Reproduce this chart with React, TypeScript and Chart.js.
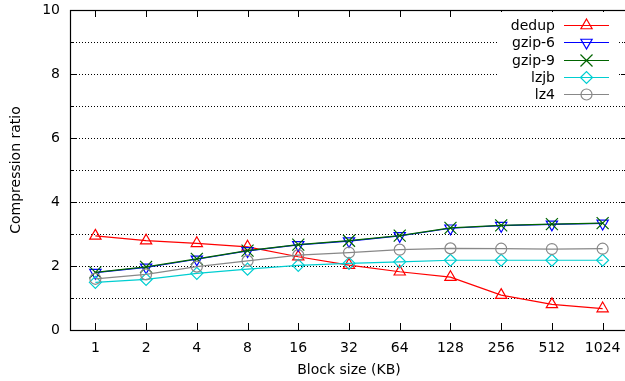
import React, { useEffect, useRef } from 'react';
import { Chart, registerables } from 'chart.js';
import { drawPoint } from 'chart.js/helpers';

Chart.register(...registerables);

const categories = ['1', '2', '4', '8', '16', '32', '64', '128', '256', '512', '1024'];
const dedupValues = [2.94, 2.79, 2.71, 2.6, 2.29, 2.03, 1.82, 1.65, 1.09, 0.8, 0.67];
const gzip6Values = [1.79, 1.96, 2.21, 2.47, 2.66, 2.78, 2.94, 3.18, 3.26, 3.3, 3.33];
const gzip9Values = [1.8, 1.97, 2.22, 2.48, 2.67, 2.79, 2.95, 3.19, 3.27, 3.31, 3.34];
const lzjbValues = [1.49, 1.58, 1.77, 1.9, 2.02, 2.08, 2.13, 2.18, 2.18, 2.18, 2.18];
const lz4Values = [1.6, 1.74, 1.98, 2.16, 2.34, 2.42, 2.51, 2.55, 2.54, 2.53, 2.54];
const yMin = 0;
const yMax = 10;
const yMajorStep = 2;
const gridValues = [1, 2, 3, 4, 5, 6, 7, 8, 9];
const minorTickValues = [1, 3, 5, 7, 9];

const FONT = 'DejaVu Sans';

const seriesDefs = [
  { label: 'dedup', data: dedupValues, color: '#ff0000', style: 'triangle', rotation: 0, radius: 6.5 },
  { label: 'gzip-6', data: gzip6Values, color: '#0000ff', style: 'triangle', rotation: 180, radius: 6.5 },
  { label: 'gzip-9', data: gzip9Values, color: '#006400', style: 'crossRot', rotation: 0, radius: 8.5 },
  { label: 'lzjb', data: lzjbValues, color: '#00ced1', style: 'rectRot', rotation: 0, radius: 6 },
  { label: 'lz4', data: lz4Values, color: '#888888', style: 'circle', rotation: 0, radius: 5.5 },
];

const framePlugin = {
  id: 'gnuplotFrame',
  beforeDatasetsDraw(chart: any) {
    const { ctx, chartArea } = chart;
    const { left, right, top, bottom } = chartArea;
    const ys = chart.scales.y;
    const xs = chart.scales.x;
    ctx.save();
    ctx.strokeStyle = '#000';
    ctx.lineWidth = 1;
    ctx.setLineDash([1, 2]);
    gridValues.forEach((v) => {
      const y = Math.round(ys.getPixelForValue(v)) + 0.5;
      ctx.beginPath();
      ctx.moveTo(left, y);
      ctx.lineTo(right, y);
      ctx.stroke();
    });
    ctx.setLineDash([]);
    ctx.strokeStyle = '#000';
    ctx.lineWidth = 1.2;
    ctx.strokeRect(Math.round(left) + 0.5, Math.round(top) + 0.5, Math.round(right - left), Math.round(bottom - top));
    ctx.lineWidth = 1;
    const major = 7;
    const minor = 4;
    for (let v = yMin; v <= yMax; v += yMajorStep) {
      const y = Math.round(ys.getPixelForValue(v)) + 0.5;
      ctx.beginPath();
      ctx.moveTo(left, y);
      ctx.lineTo(left + major, y);
      ctx.moveTo(right, y);
      ctx.lineTo(right - major, y);
      ctx.stroke();
    }
    minorTickValues.forEach((v) => {
      const y = Math.round(ys.getPixelForValue(v)) + 0.5;
      ctx.beginPath();
      ctx.moveTo(left, y);
      ctx.lineTo(left + minor, y);
      ctx.moveTo(right, y);
      ctx.lineTo(right - minor, y);
      ctx.stroke();
    });
    categories.forEach((_, i) => {
      const x = Math.round(xs.getPixelForValue(i)) + 0.5;
      ctx.beginPath();
      ctx.moveTo(x, bottom);
      ctx.lineTo(x, bottom - major);
      ctx.moveTo(x, top);
      ctx.lineTo(x, top + major);
      ctx.stroke();
    });
    ctx.restore();
  },
  afterDatasetsDraw(chart: any) {
    const { ctx, chartArea } = chart;
    const R = chartArea.right;
    const T = chartArea.top;
    ctx.save();
    ctx.fillStyle = '#ffffff';
    ctx.fillRect(R - 130, T + 2, 119, 91);
    ctx.font = `14px "${FONT}"`;
    ctx.textAlign = 'right';
    ctx.textBaseline = 'middle';
    seriesDefs.forEach((s, i) => {
      const y = Math.round(T + 15 + i * 17.25) + 0.5;
      ctx.fillStyle = '#000';
      ctx.fillText(s.label, R - 73, y + 1);
      ctx.strokeStyle = s.color;
      ctx.lineWidth = 1.2;
      ctx.beginPath();
      ctx.moveTo(R - 64, y);
      ctx.lineTo(R - 19, y);
      ctx.stroke();
      ctx.strokeStyle = s.color;
      ctx.fillStyle = 'rgba(0,0,0,0)';
      drawPoint(ctx, { pointStyle: s.style, radius: s.radius, rotation: s.rotation, borderWidth: 1.2 } as any, R - 41.5, y);
    });
    ctx.restore();
  },
};

export default function App() {
  const canvasRef = useRef<HTMLCanvasElement | null>(null);

  useEffect(() => {
    if (!canvasRef.current) return;
    const chart = new Chart(canvasRef.current, {
      type: 'line',
      data: {
        labels: categories,
        datasets: seriesDefs.map((s, i) => ({
          label: s.label,
          data: s.data,
          borderColor: s.color,
          backgroundColor: 'rgba(0,0,0,0)',
          borderWidth: 1.2,
          tension: 0,
          fill: false,
          pointStyle: s.style as any,
          pointRotation: s.rotation,
          pointRadius: s.radius,
          pointBorderWidth: 1.2,
          pointBorderColor: s.color,
          pointBackgroundColor: 'rgba(0,0,0,0)',
          order: seriesDefs.length - 1 - i,
        })),
      },
      options: {
        responsive: false,
        animation: false,
        devicePixelRatio: 1,
        layout: { autoPadding: false, padding: { top: 10, right: 0, left: 0, bottom: 0 } },
        plugins: {
          legend: { display: false },
          tooltip: { enabled: false },
        },
        scales: {
          x: {
            type: 'category',
            offset: true,
            grid: { display: false, drawTicks: false },
            border: { display: false },
            ticks: { color: '#000', font: { family: FONT, size: 14 }, padding: 10, autoSkip: false, maxRotation: 0 },
            title: {
              display: true,
              text: 'Block size (KB)',
              color: '#000',
              font: { family: FONT, size: 14 },
              padding: { top: 0, bottom: 2 },
            },
            afterFit: (scale: any) => {
              scale.height = 51;
              scale.paddingLeft = 0;
              scale.paddingRight = 0;
            },
          },
          y: {
            min: yMin,
            max: yMax,
            grid: { display: false, drawTicks: false },
            border: { display: false },
            ticks: { stepSize: yMajorStep, color: '#000', font: { family: FONT, size: 14 }, padding: 10 },
            title: {
              display: true,
              text: 'Compression ratio',
              color: '#000',
              font: { family: FONT, size: 14 },
              padding: { top: 8, bottom: 0 },
            },
            afterFit: (scale: any) => {
              scale.width = 70;
              scale.paddingTop = 0;
              scale.paddingBottom = 0;
            },
          },
        },
      },
      plugins: [framePlugin],
    });
    return () => chart.destroy();
  }, []);

  return (
    <div style={{ position: 'fixed', left: 0, top: 0, width: 625, height: 381, overflow: 'hidden', background: '#fff' }}>
      <canvas ref={canvasRef} width={628} height={381} style={{ display: 'block' }} />
    </div>
  );
}
